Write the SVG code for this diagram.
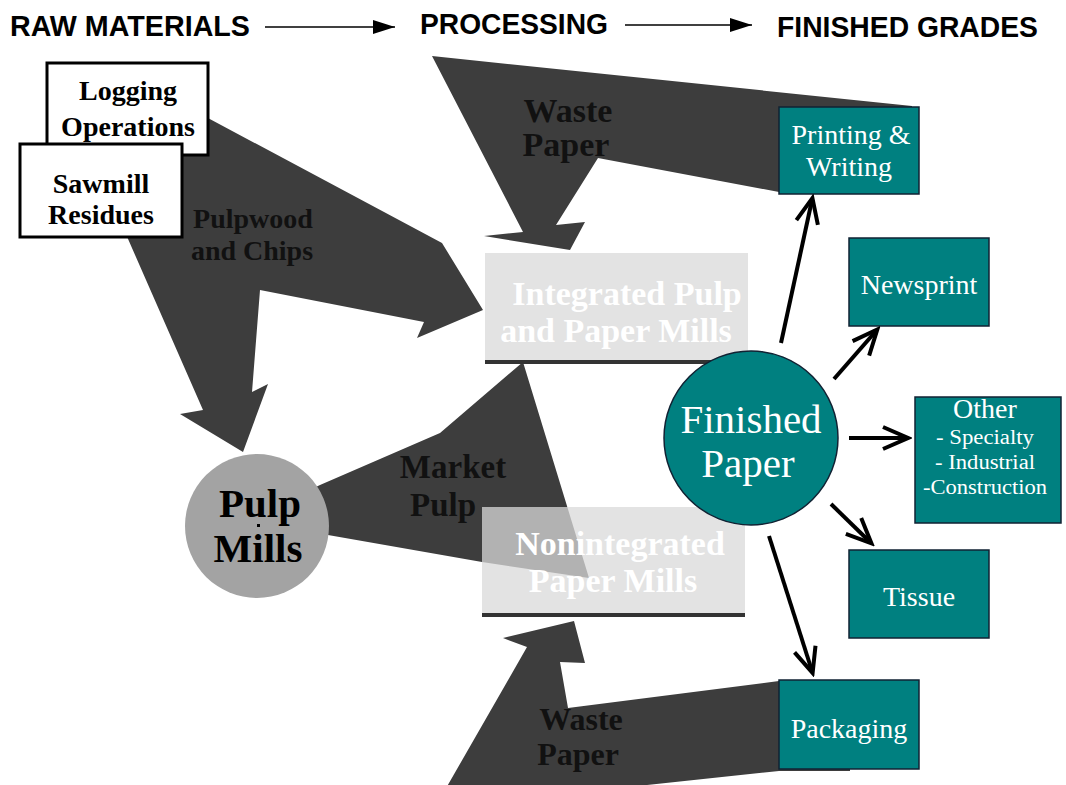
<svg xmlns="http://www.w3.org/2000/svg" width="1066" height="785" viewBox="0 0 1066 785">
<defs>
<style>
.hdr{font-family:"Liberation Sans",Arial,sans-serif;font-weight:bold;font-size:29px;fill:#000}
.flow{fill:#3d3d3d}
.flab{font-family:"Liberation Serif","Times New Roman",serif;font-weight:bold;fill:#111;text-anchor:middle}
.src rect{fill:#fff;stroke:#000;stroke-width:3}
.src text{font-family:"Liberation Serif","Times New Roman",serif;font-weight:bold;font-size:28px;fill:#000;text-anchor:middle}
.mill rect.bg{fill:#d9d9d9;fill-opacity:0.75}
.mill rect.bar{fill:#333}
.mill text{font-family:"Liberation Serif","Times New Roman",serif;font-weight:bold;font-size:34px;fill:#fff;text-anchor:middle}
.grade rect{fill:#008080;stroke:#123;stroke-width:1.5}
.grade text{font-family:"Liberation Serif","Times New Roman",serif;font-size:28px;fill:#fff;text-anchor:middle}
.grade text.sm{font-size:20px}
.conn line{stroke:#000;stroke-width:4;marker-end:url(#vhead)}
</style>
<marker id="vhead" markerUnits="userSpaceOnUse" markerWidth="32" markerHeight="28" viewBox="0 0 32 28" refX="26" refY="14" orient="auto">
<path d="M3,3 L28,14 L3,25" fill="none" stroke="#000" stroke-width="4" stroke-linejoin="miter"/>
</marker>
<marker id="thead" markerUnits="userSpaceOnUse" markerWidth="22" markerHeight="14" viewBox="0 0 22 14" refX="22" refY="7" orient="auto">
<path d="M0,0 L22,7 L0,14 Z" fill="#000"/>
</marker>
</defs>
<rect width="1066" height="785" fill="#fff"/>

<g id="header">
<text class="hdr" x="10" y="36" textLength="240" lengthAdjust="spacingAndGlyphs">RAW MATERIALS</text>
<text class="hdr" x="420" y="34" textLength="188" lengthAdjust="spacingAndGlyphs">PROCESSING</text>
<text class="hdr" x="777" y="37" textLength="261" lengthAdjust="spacingAndGlyphs">FINISHED GRADES</text>
<line x1="265" y1="27" x2="395" y2="27" stroke="#000" stroke-width="1.5" marker-end="url(#thead)"/>
<line x1="625" y1="25" x2="752" y2="25" stroke="#000" stroke-width="1.5" marker-end="url(#thead)"/>
</g>

<g id="flows">
<polygon id="flow-pulpwood" class="flow" points="150,87 442,243 483,310 417,338 424,322 260,290 252,392 268,384 243,452 180,414 203,410 100,175"/>
<polygon id="flow-waste-top" class="flow" points="432,56 912,106 912,150 779,192 598,158 556,225 585,222 570,250 484,236 523,232"/>
<polygon id="flow-waste-bottom" class="flow" points="850,680 779,681 568,708 560,662 585,663 574,621 503,638 527,647 445,790 600,790 779,771 850,771"/>
<polygon id="flow-market" class="flow" points="523,362 589,578 482,562 328,535 257,515 320,485 440,433"/>
</g>

<g id="flow-labels">
<text class="flab" x="253" y="228" font-size="28">Pulpwood</text>
<text class="flab" x="252" y="260" font-size="28">and Chips</text>
<text class="flab" x="568" y="122" font-size="34">Waste</text>
<text class="flab" x="566" y="156" font-size="34">Paper</text>
<text class="flab" x="453" y="478" font-size="33">Market</text>
<text class="flab" x="443" y="516" font-size="33">Pulp</text>
<text class="flab" x="581" y="730" font-size="32">Waste</text>
<text class="flab" x="578" y="765" font-size="32">Paper</text>
</g>

<g id="logging" class="src">
<rect x="47" y="63" width="161" height="92"/>
<text x="128" y="100">Logging</text>
<text x="128" y="136">Operations</text>
</g>
<g id="sawmill" class="src">
<rect x="20" y="144" width="162" height="93"/>
<text x="101" y="193">Sawmill</text>
<text x="101" y="224">Residues</text>
</g>

<g id="pulp-mills">
<circle cx="257" cy="526" r="72" fill="#a3a3a3"/>
<text x="260" y="517" font-family="Liberation Serif,'Times New Roman',serif" font-weight="bold" font-size="41" text-anchor="middle" fill="#000">Pulp</text>
<text x="258" y="562" font-family="Liberation Serif,'Times New Roman',serif" font-weight="bold" font-size="41" text-anchor="middle" fill="#000">Mills</text>
<rect x="257" y="524" width="3" height="3" fill="#000"/>
</g>

<g id="integrated" class="mill">
<rect class="bg" x="485" y="253" width="263" height="107"/>
<rect class="bar" x="485" y="360" width="263" height="4"/>
<text x="627" y="305">Integrated Pulp</text>
<text x="616" y="342">and Paper Mills</text>
</g>
<g id="nonintegrated" class="mill">
<rect class="bg" x="482" y="507" width="263" height="106"/>
<rect class="bar" x="482" y="613" width="263" height="4"/>
<text x="620" y="555">Nonintegrated</text>
<text x="613" y="592">Paper Mills</text>
</g>

<g id="finished-paper">
<circle cx="751" cy="438" r="87" fill="#008080" stroke="#123" stroke-width="1.5"/>
<text x="751" y="433" font-family="Liberation Serif,'Times New Roman',serif" font-size="41" text-anchor="middle" fill="#fff">Finished</text>
<text x="748" y="477" font-family="Liberation Serif,'Times New Roman',serif" font-size="41" text-anchor="middle" fill="#fff">Paper</text>
</g>

<g id="printing" class="grade">
<rect x="779" y="107" width="140" height="87"/>
<text x="851" y="144">Printing &amp;</text>
<text x="849" y="176">Writing</text>
</g>
<g id="newsprint" class="grade">
<rect x="849" y="238" width="140" height="88"/>
<text x="919" y="294">Newsprint</text>
</g>
<g id="other" class="grade">
<rect x="915" y="397" width="146" height="126"/>
<text x="985" y="418" font-size="26">Other</text>
<text class="sm" x="985" y="444" textLength="98" lengthAdjust="spacingAndGlyphs">- Specialty</text>
<text class="sm" x="985" y="469" textLength="100" lengthAdjust="spacingAndGlyphs">- Industrial</text>
<text class="sm" x="985" y="494" textLength="124" lengthAdjust="spacingAndGlyphs">-Construction</text>
</g>
<g id="tissue" class="grade">
<rect x="849" y="550" width="140" height="88"/>
<text x="919" y="606">Tissue</text>
</g>
<g id="packaging" class="grade">
<rect x="779" y="680" width="140" height="89"/>
<text x="849" y="738">Packaging</text>
</g>

<g id="connectors" class="conn">
<line x1="781" y1="343" x2="812" y2="200"/>
<line x1="834" y1="379" x2="876" y2="331"/>
<line x1="849" y1="438" x2="906" y2="438"/>
<line x1="831" y1="504" x2="870" y2="542"/>
<line x1="769" y1="536" x2="812" y2="671"/>
</g>
</svg>
